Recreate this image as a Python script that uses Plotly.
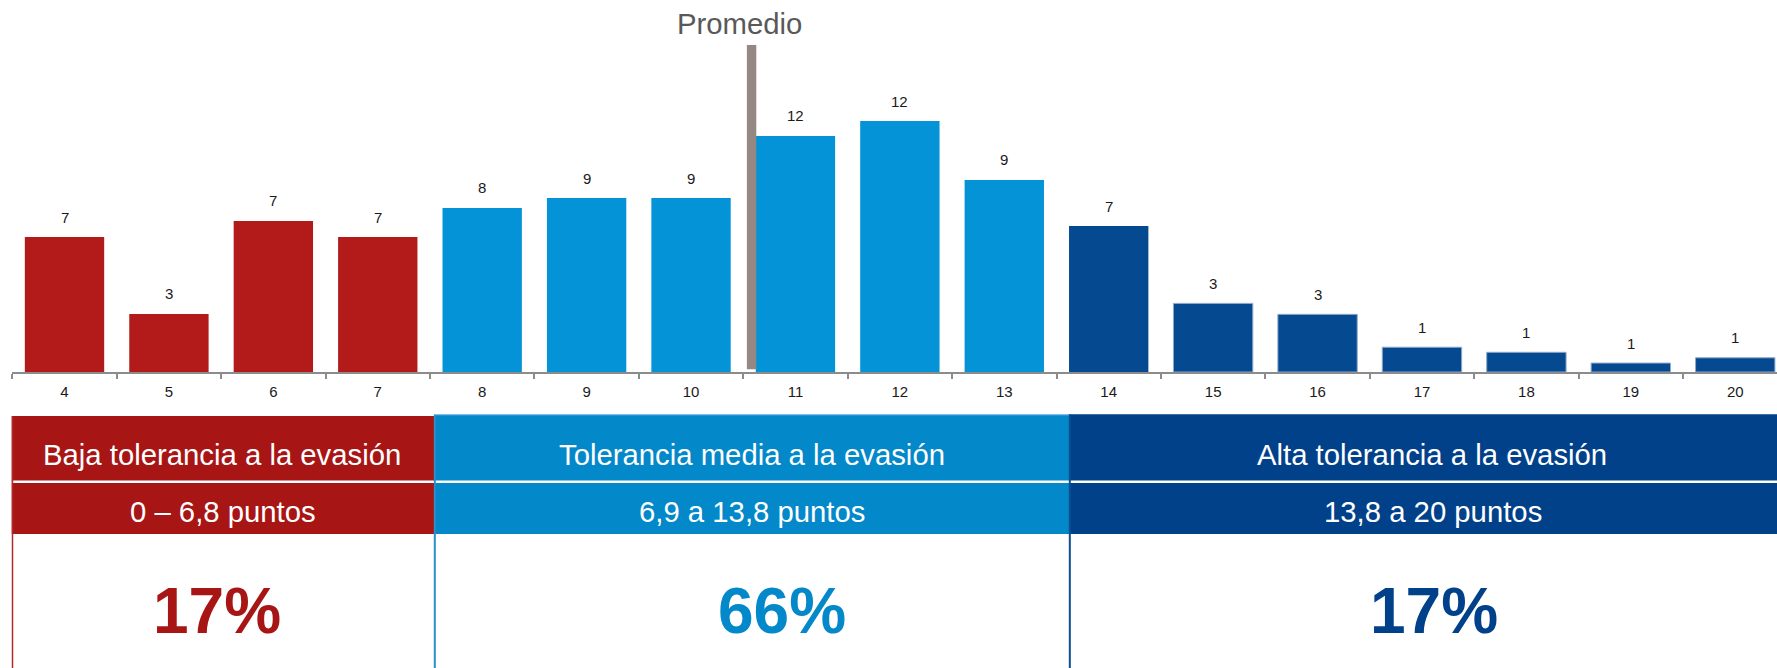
import plotly.graph_objects as go

# ---------------- data ----------------
categories = ["4", "5", "6", "7", "8", "9", "10", "11", "12", "13",
              "14", "15", "16", "17", "18", "19", "20"]
values = [6.65, 2.86, 7.44, 6.65, 8.08, 8.57, 8.57, 11.63, 12.36, 9.46,
          7.19, 3.38, 2.84, 1.22, 0.97, 0.44, 0.70]
value_labels = ["7", "3", "7", "7", "8", "9", "9", "12", "12", "9",
                "7", "3", "3", "1", "1", "1", "1"]
groups = ["baja"] * 4 + ["media"] * 6 + ["alta"] * 7
promedio = 10.58
promedio_label = "Promedio"

tier_keys = ["baja", "media", "alta"]
tier_names = ["Baja tolerancia a la evasión", "Tolerancia media a la evasión",
              "Alta tolerancia a la evasión"]
tier_ranges = ["0 – 6,8 puntos", "6,9 a 13,8 puntos", "13,8 a 20 puntos"]
tier_pcts = ["17%", "66%", "17%"]

# ---------------- styles ----------------
W, H = 1777, 668
FONT = "Liberation Sans, Arial, sans-serif"
bar_colors = {"baja": "#B31B1B", "media": "#0593D8", "alta": "#054A91"}
head_colors = {"baja": "#A81515", "media": "#0388C9", "alta": "#01418A"}
border_colors = {"baja": "#B42A2A", "media": "#2A90CC", "alta": "#0D4D93"}
bar_lines = {"baja": "#B31B1B", "media": "#0593D8", "alta": "#8FA9C9"}

px_per_unit = 20.3
baseline_px = 372
cat_w = 104.42
left_px = 12.3

def px(x):
    return x / W

def py(y):
    return 1 - y / H

fig = go.Figure()
fig.add_trace(go.Bar(
    x=categories, y=values,
    marker=dict(color=[bar_colors[g] for g in groups],
                line=dict(color=[bar_lines[g] for g in groups], width=[0]*11 + [1]*6)),
    hoverinfo="skip",
))

annotations = []
for i, (v, t) in enumerate(zip(values, value_labels)):
    annotations.append(dict(x=i, y=v, xref="x", yref="y", text=t, showarrow=False,
                            yanchor="middle", yshift=20,
                            font=dict(family=FONT, size=15, color="#1a1a1a")))

# Promedio marker
mean_idx = categories.index("4") + (promedio - 4)
shapes = [dict(type="rect", xref="x", yref="paper",
               x0=mean_idx - 0.045, x1=mean_idx + 0.045,
               y0=py(369.3), y1=py(45), fillcolor="#958781", line=dict(width=0),
               layer="above")]
annotations.append(dict(x=px(739), y=py(24), xref="paper", yref="paper",
                        text=promedio_label, showarrow=False,
                        xanchor="center", yanchor="middle",
                        font=dict(family=FONT, size=29.3, color="#595959")))

# ---------------- tables ----------------
col_bounds = [(11.7, 434), (434, 1069), (1069, 1800)]
col_tops = [416, 414.7, 414.3]
head_cx = [222, 752, 1432]
range_cx = [222.8, 751.5, 1433]
pct_cx = [216.7, 782.4, 1433.8]

for i, k in enumerate(tier_keys):
    x0, x1 = col_bounds[i]
    shapes.append(dict(type="rect", xref="paper", yref="paper",
                       x0=px(x0), x1=px(x1), y0=py(534), y1=py(col_tops[i]),
                       fillcolor=head_colors[k], line=dict(width=0), layer="above"))
    # white separator between rows
    shapes.append(dict(type="line", xref="paper", yref="paper",
                       x0=px(x0), x1=px(x1), y0=py(481.7), y1=py(481.7),
                       line=dict(color="white", width=2.5), layer="above"))
    # left border
    shapes.append(dict(type="line", xref="paper", yref="paper",
                       x0=px(x0 + 0.8), x1=px(x0 + 0.8), y0=py(H + 2), y1=py(col_tops[i]),
                       line=dict(color=border_colors[k], width=2 if i else 1.5), layer="above"))
    annotations.append(dict(x=px(head_cx[i]), y=py(455), xref="paper", yref="paper",
                            text=tier_names[i], showarrow=False,
                            xanchor="center", yanchor="middle",
                            font=dict(family=FONT, size=29.3, color="white")))
    annotations.append(dict(x=px(range_cx[i]), y=py(511.5), xref="paper", yref="paper",
                            text=tier_ranges[i], showarrow=False,
                            xanchor="center", yanchor="middle",
                            font=dict(family=FONT, size=29.3, color="white")))
    annotations.append(dict(x=px(pct_cx[i]), y=py(611), xref="paper", yref="paper",
                            text="<b>" + tier_pcts[i] + "</b>", showarrow=False,
                            xanchor="center", yanchor="middle",
                            font=dict(family=FONT, size=64, color=head_colors[k])))

# top border highlight for the blue header
shapes.append(dict(type="line", xref="paper", yref="paper",
                   x0=px(434), x1=px(1069), y0=py(415), y1=py(415),
                   line=dict(color="#3FA2DA", width=1.2), layer="above"))

x_max = -0.5 + (W - left_px) / cat_w

fig.update_layout(
    width=W, height=H,
    margin=dict(l=0, r=0, t=0, b=0),
    paper_bgcolor="white", plot_bgcolor="white",
    showlegend=False,
    bargap=0.24,
    xaxis=dict(type="category", domain=[left_px / W, 1], range=[-0.5, x_max],
               showline=True, linecolor="#8C8C8C", linewidth=2,
               ticks="outside", tickson="boundaries", ticklen=5, tickwidth=1.5,
               tickcolor="#8C8C8C", showgrid=False, zeroline=False,
               tickfont=dict(family=FONT, size=15, color="#1a1a1a"),
               ticklabelstandoff=5, fixedrange=True),
    yaxis=dict(domain=[1 - baseline_px / H, 1], range=[0, baseline_px / px_per_unit],
               visible=False, fixedrange=True),
    shapes=shapes,
    annotations=annotations,
)

fig.write_html("out.html", config={"displayModeBar": False},
               post_script="document.body.style.margin='0';document.body.style.overflow='hidden';")
